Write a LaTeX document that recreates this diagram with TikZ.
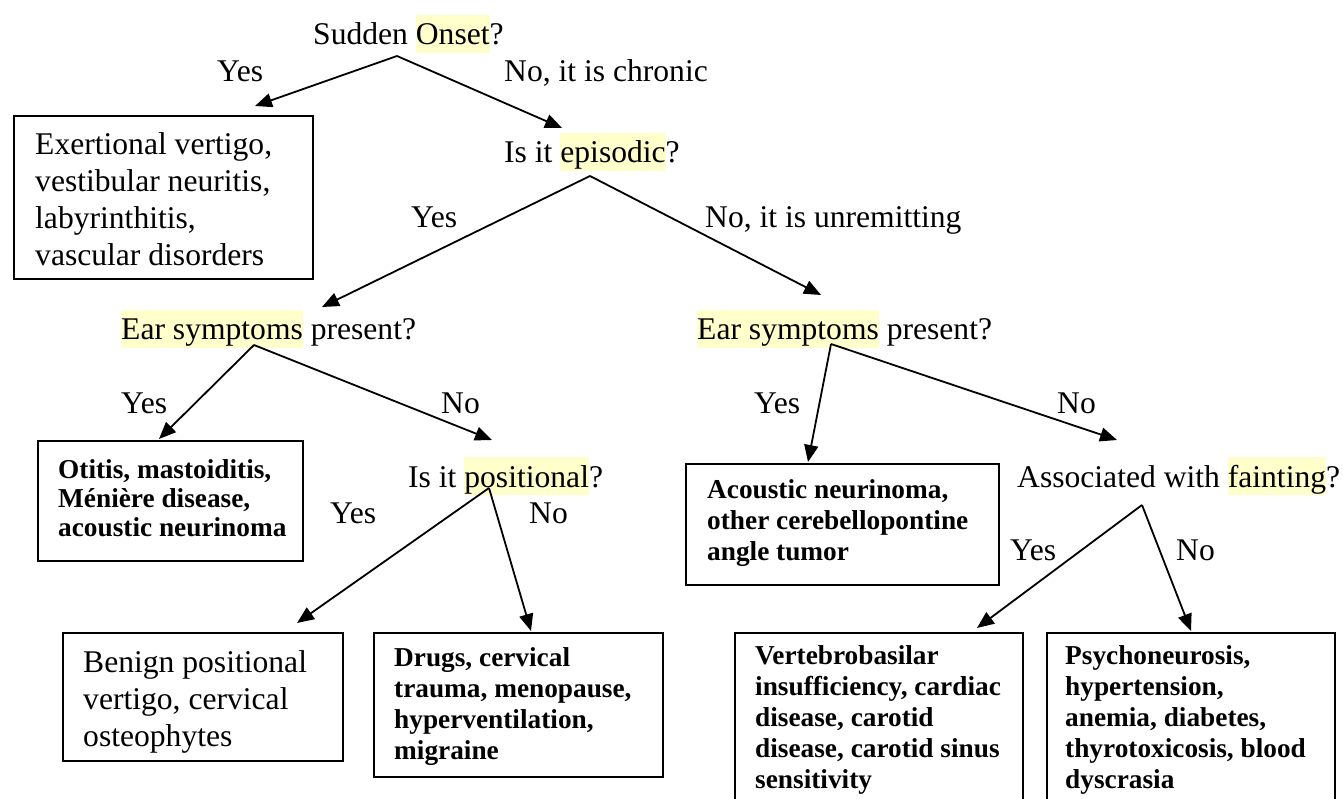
\documentclass[tikz,border=0pt]{standalone}
\usepackage{fontspec}
\setmainfont{Liberation Serif}
\usetikzlibrary{arrows.meta}
\definecolor{hly}{HTML}{FFFFCC}
% word highlight with a fixed line-height band
\newcommand\hl[1]{{\setlength\fboxsep{0pt}\colorbox{hly}{\rule[-8pt]{0pt}{38pt}#1}}}
\newcommand\regfont{\fontsize{31.6}{37}\selectfont}
\newcommand\boldfont{\bfseries\fontsize{27.3}{31}\selectfont}
\newcommand\boldtight{\bfseries\fontsize{27.3}{29}\selectfont}
\begin{document}
\begin{tikzpicture}[x=1pt,y=-1pt,
  q/.style={anchor=base west, inner sep=0pt, font=\regfont},
  box/.style={draw, line width=1.8pt, anchor=north west, inner sep=0pt},
  rtxt/.style={anchor=base west, inner sep=0pt, text width=320pt, align=flush left, font=\regfont},
  btxt/.style={anchor=base west, inner sep=0pt, text width=320pt, align=flush left, font=\boldfont},
  arr/.style={line width=1.8pt, -{Triangle[length=17pt,width=14pt]}}]
\fill[white] (0,0) rectangle (1343,799);
\useasboundingbox (0,0) rectangle (1343,799);
\clip (0,0) rectangle (1343,799);

% questions
\node[q] (q1) at (313,45) {Sudden \hl{Onset}?};
\node[q] (q2) at (504,163) {Is it \hl{episodic}?};
\node[q] (q3) at (121,340) {\hl{Ear symptoms} present?};
\node[q] (q4) at (697,340) {\hl{Ear symptoms} present?};
\node[q] (q5) at (408,487) {Is it \hl{positional}?};
\node[q] (q6) at (1017,487) {Associated with \hl{fainting}?};

% branch labels
\node[q] (l1y) at (217,82) {Yes};
\node[q] (l1n) at (504,82) {No, it is chronic};
\node[q] (l2y) at (411,228) {Yes};
\node[q] (l2n) at (705,228) {No, it is unremitting};
\node[q] (l3y) at (121,413) {Yes};
\node[q] (l3n) at (441,413) {No};
\node[q] (l4y) at (754,413) {Yes};
\node[q] (l4n) at (1057,413) {No};
\node[q] (l5y) at (330,523) {Yes};
\node[q] (l5n) at (529,523) {No};
\node[q] (l6y) at (1010,560) {Yes};
\node[q] (l6n) at (1176,560) {No};

% outcome boxes
\node[box, minimum width=299pt, minimum height=163pt] (exer) at (13,115) {};
\node[rtxt] at (35,155) {Exertional vertigo,\\ vestibular neuritis,\\ labyrinthitis,\\ vascular disorders};

\node[box, minimum width=265pt, minimum height=120pt] (otit) at (37,440) {};
\node[btxt, font=\boldtight] at (58,478) {Otitis, mastoiditis,\\ Ménière disease,\\ acoustic neurinoma};

\node[box, minimum width=280pt, minimum height=128pt] (beni) at (62,632) {};
\node[rtxt] at (83,672) {Benign positional\\ vertigo, cervical\\ osteophytes};

\node[box, minimum width=289pt, minimum height=144pt] (drug) at (373,632) {};
\node[btxt] at (394,666) {Drugs, cervical\\ trauma, menopause,\\ hyperventilation,\\ migraine};

\node[box, minimum width=313pt, minimum height=121pt] (acou) at (685,463) {};
\node[btxt] at (707,498) {Acoustic neurinoma,\\ other cerebellopontine\\ angle tumor};

\node[box, minimum width=288pt, minimum height=180pt] (vert) at (734,632) {};
\node[btxt] at (755,664) {Vertebrobasilar\\ insufficiency, cardiac\\ disease, carotid\\ disease, carotid sinus\\ sensitivity};

\node[box, minimum width=288pt, minimum height=180pt] (psyc) at (1046,632) {};
\node[btxt] at (1065,664) {Psychoneurosis,\\ hypertension,\\ anemia, diabetes,\\ thyrotoxicosis, blood\\ dyscrasia};

% branching points under each question
\coordinate (a1) at (397,56);
\coordinate (a2) at (590,176);
\coordinate (a3) at (254,345);
\coordinate (a4) at (831,344);
\coordinate (a5) at (489,488);
\coordinate (a6) at (1142,505);

% arrow ends
\coordinate (t1y) at (255,106);
\coordinate (t1n) at (562,128);
\coordinate (t2y) at (322,307);
\coordinate (t2n) at (821,295);
\coordinate (t3y) at (159,439);
\coordinate (t3n) at (492,440);
\coordinate (t4y) at (808,462);
\coordinate (t4n) at (1117,440);
\coordinate (t5y) at (297,623);
\coordinate (t5n) at (531,631);
\coordinate (t6y) at (977,628);
\coordinate (t6n) at (1191,631);

\draw[arr] (a1) -- (t1y);
\draw[arr] (a1) -- (t1n);
\draw[arr] (a2) -- (t2y);
\draw[arr] (a2) -- (t2n);
\draw[arr] (a3) -- (t3y);
\draw[arr] (a3) -- (t3n);
\draw[arr] (a4) -- (t4y);
\draw[arr] (a4) -- (t4n);
\draw[arr] (a5) -- (t5y);
\draw[arr] (a5) -- (t5n);
\draw[arr] (a6) -- (t6y);
\draw[arr] (a6) -- (t6n);
\end{tikzpicture}
\end{document}
